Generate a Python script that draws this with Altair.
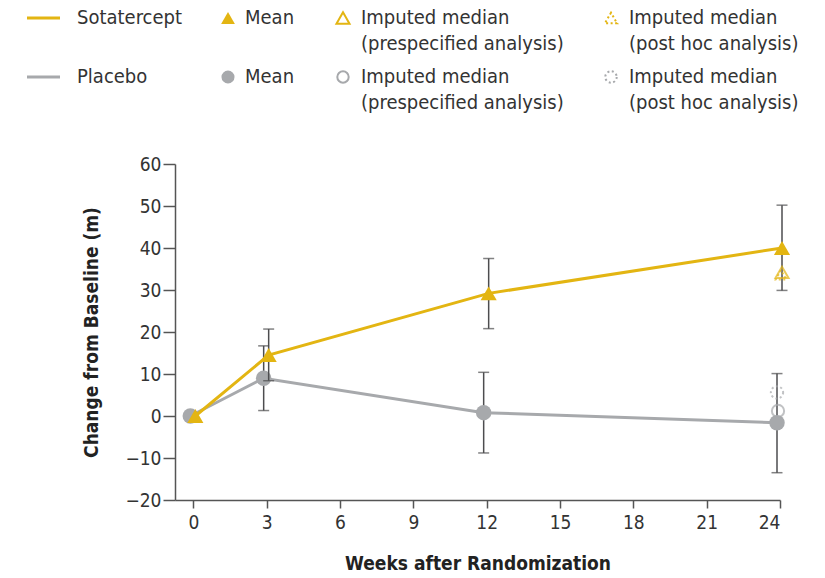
import altair as alt
import pandas as pd

# ---------------- data ----------------
weeks = [0, 3, 12, 24]
sota_mean = [0.0, 14.5, 29.2, 40.0]
sota_low = [None, 8.4, 20.8, 29.9]
sota_high = [None, 20.7, 37.5, 50.2]
plac_mean = [0.0, 9.0, 0.8, -1.6]
plac_low = [None, 1.3, -8.8, -13.5]
plac_high = [None, 16.7, 10.4, 10.1]

imp_week = [24]
sota_imp_pre = [34.2]
sota_imp_post = [33.6]
plac_imp_pre = [1.2]
plac_imp_post = [5.6]

x_ticks = [0, 3, 6, 9, 12, 15, 18, 21, 24]
y_ticks = [-20, -10, 0, 10, 20, 30, 40, 50, 60]

GOLD = "#E3B512"
GRAY = "#A7A9AC"
BAR = "#4D4D4F"
FONT = "DejaVu Sans Condensed, Liberation Sans, Roboto, sans-serif"

sota = pd.DataFrame({"week": weeks, "mean": sota_mean, "low": sota_low, "high": sota_high})
plac = pd.DataFrame({"week": weeks, "mean": plac_mean, "low": plac_low, "high": plac_high})
sota_err = sota.dropna()
plac_err = plac.dropna()
sota_pre = pd.DataFrame({"week": imp_week, "v": sota_imp_pre})
sota_post = pd.DataFrame({"week": imp_week, "v": sota_imp_post})
plac_pre = pd.DataFrame({"week": imp_week, "v": plac_imp_pre})
plac_post = pd.DataFrame({"week": imp_week, "v": plac_imp_post})

xs = alt.Scale(domain=[-0.75, 24], nice=False, zero=False)
ys = alt.Scale(domain=[-20, 60], nice=False, zero=False)

X = alt.X("week:Q", scale=xs, axis=alt.Axis(
    values=x_ticks, title="Weeks after Randomization", grid=False,
    tickSize=8, labelPadding=5, titlePadding=22))
Y_AX = alt.Axis(values=y_ticks, title="Change from Baseline (m)", grid=False,
                tickSize=12, labelPadding=2, titlePadding=23)


def Yf(field):
    return alt.Y(f"{field}:Q", scale=ys, axis=Y_AX)


def series(df, err, color, shape, dx, size):
    line = alt.Chart(df).mark_line(color=color, strokeWidth=3, xOffset=dx).encode(x=X, y=Yf("mean"))
    rule = alt.Chart(err).mark_rule(color=BAR, strokeWidth=1.5, xOffset=dx).encode(
        x=X, y=Yf("low"), y2="high")
    cap_lo = alt.Chart(err).mark_tick(color=BAR, orient="horizontal", size=11, thickness=1.5,
                                      xOffset=dx).encode(x=X, y=Yf("low"))
    cap_hi = alt.Chart(err).mark_tick(color=BAR, orient="horizontal", size=11, thickness=1.5,
                                      xOffset=dx).encode(x=X, y=Yf("high"))
    pts = alt.Chart(df).mark_point(shape=shape, filled=True, color=color, opacity=1,
                                   size=size, xOffset=dx).encode(x=X, y=Yf("mean"))
    return [rule, cap_lo, cap_hi, line, pts]


plac_layers = series(plac, plac_err, GRAY, "circle", -3, 240)
sota_layers = series(sota, sota_err, GOLD, "triangle-up", 2, 260)

imp_layers = [
    alt.Chart(plac_pre).mark_point(shape="circle", filled=False, color=GRAY, strokeWidth=2,
                                   size=150, xOffset=-2).encode(x=X, y=Yf("v")),
    alt.Chart(plac_post).mark_point(shape="circle", filled=False, color=GRAY, strokeWidth=2,
                                    strokeDash=[2, 2.5], size=150, xOffset=-3).encode(x=X, y=Yf("v")),
    alt.Chart(sota_pre).mark_point(shape="triangle-up", filled=False, color=GOLD, strokeWidth=2,
                                   size=170, xOffset=2).encode(x=X, y=Yf("v")),
    alt.Chart(sota_post).mark_point(shape="triangle-up", filled=False, color=GOLD, strokeWidth=2,
                                    strokeDash=[2, 2.5], size=110, xOffset=1).encode(x=X, y=Yf("v")),
]

# ---------------- manual legend (pixel positions relative to plot origin) ----------------
leg_text = pd.DataFrame({
    "label": ["Sotatercept", "Mean", "Imputed median", "(prespecified analysis)",
              "Imputed median", "(post hoc analysis)",
              "Placebo", "Mean", "Imputed median", "(prespecified analysis)",
              "Imputed median", "(post hoc analysis)"],
    "px": [-98, 70, 186, 186, 454, 454, -98, 70, 186, 186, 454, 454],
    "py": [-146, -146, -146, -120, -146, -120, -87, -87, -87, -61, -87, -61],
})
leg_lines = pd.DataFrame({"px": [-148, -148], "px2": [-115, -115], "py": [-146, -87],
                          "c": [GOLD, GRAY]})

PX = alt.X("px:Q", scale=None, axis=None)
PY = alt.Y("py:Q", scale=None, axis=None)

legend = [
    alt.Chart(leg_text).mark_text(align="left", baseline="middle", font=FONT, fontSize=20,
                                  color="#333333").encode(x=PX, y=PY, text="label:N"),
    alt.Chart(leg_lines).mark_rule(strokeWidth=3).encode(
        x=PX, x2="px2:Q", y=PY, color=alt.Color("c:N", scale=None)),
]


def leg_sym(px, py, shape, color, filled, dash=None, size=170):
    df = pd.DataFrame({"px": [px], "py": [py]})
    kw = dict(shape=shape, color=color, filled=filled, size=size, opacity=1)
    if not filled:
        kw["strokeWidth"] = 2
    if dash:
        kw["strokeDash"] = dash
    return alt.Chart(df).mark_point(**kw).encode(x=PX, y=PY)


legend += [
    leg_sym(53, -146, "triangle-up", GOLD, True, size=190),
    leg_sym(168, -146, "triangle-up", GOLD, False, size=170),
    leg_sym(436, -146, "triangle-up", GOLD, False, dash=[2, 2.5], size=150),
    leg_sym(53, -87, "circle", GRAY, True, size=170),
    leg_sym(168, -87, "circle", GRAY, False, size=130),
    leg_sym(436, -87, "circle", GRAY, False, dash=[2, 2.5], size=130),
]

chart = alt.layer(*plac_layers, *sota_layers, *imp_layers, *legend).properties(
    width=605, height=336,
    autosize=alt.AutoSizeParams(type="none"),
    padding={"left": 175, "top": 164, "right": 45, "bottom": 78},
    background="white",
).configure_view(stroke=None).configure_axis(
    domainColor="#555555", tickColor="#555555", domainWidth=1.5, tickWidth=1.5,
    labelFont=FONT, labelFontSize=19, labelColor="#333333",
    titleFont=FONT, titleFontSize=19, titleFontWeight="bold", titleColor="#222222",
)

chart.save("out.html", embed_options={"renderer": "svg", "actions": False})
